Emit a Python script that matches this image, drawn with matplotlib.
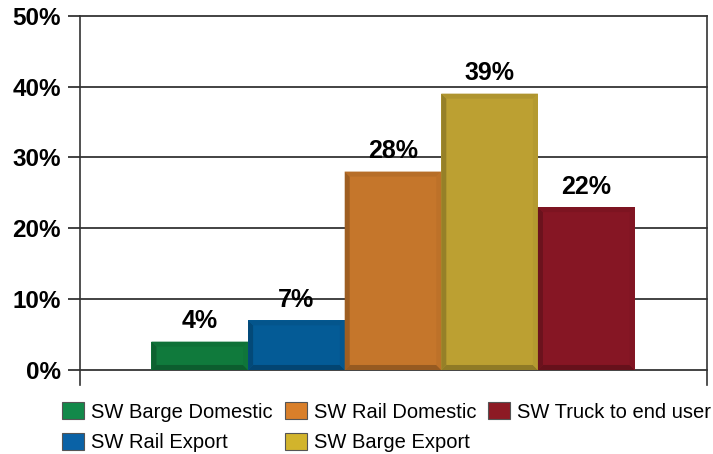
import numpy as np
import matplotlib
matplotlib.use("Agg")
import matplotlib.pyplot as plt
from matplotlib.patches import Polygon
from matplotlib.colors import to_rgb

# data
series = ["SW Barge Domestic", "SW Rail Export", "SW Rail Domestic",
          "SW Barge Export", "SW Truck to end user"]
heights = [4, 7, 28, 39, 23]          # bar heights as drawn (%)
labels = ["4%", "7%", "28%", "39%", "22%"]
colors = ["#107a3c", "#045b96", "#c5762b", "#bca032", "#861624"]
legend_colors = ["#12894a", "#0a62a6", "#d97f2a", "#d2b42c", "#8d1a24"]
yticks = [0, 10, 20, 30, 40, 50]


def shade(c, f):
    r, g, b = to_rgb(c)
    if f < 1:
        return (r * f, g * f, b * f)
    return (r + (1 - r) * (f - 1), g + (1 - g) * (f - 1), b + (1 - b) * (f - 1))


plt.rcParams['font.family'] = ['Liberation Sans', 'DejaVu Sans']

W, H = 713, 454
fig = plt.figure(figsize=(W / 100, H / 100), dpi=100)
ax = fig.add_axes([80 / W, 1 - 385 / H, (707 - 80) / W, (385 - 15.7) / H])

x = np.arange(len(heights))
ax.set_xlim(-1.24, 5.25)
ax.set_ylim(-2.12, 50)

ax.bar(x, heights, width=1.0, color=colors, zorder=3, linewidth=0)

# simple bevel on each bar
pos = ax.get_position()
px_x = (5.25 + 1.24) / (pos.width * W)
px_y = (50 + 2.12) / (pos.height * H)
bw = 5
bx, by = bw * px_x, bw * px_y
for xi, h, c in zip(x, heights, colors):
    x0, x1 = xi - 0.5, xi + 0.5
    faces = [
        ([(x0, 0), (x0 + bx, by), (x0 + bx, h - by), (x0, h)], shade(c, 0.8)),
        ([(x0, 0), (x1, 0), (x1 - bx, by), (x0 + bx, by)], shade(c, 0.76)),
        ([(x0, h), (x1, h), (x1 - bx, h - by), (x0 + bx, h - by)], shade(c, 0.93)),
        ([(x1, 0), (x1, h), (x1 - bx, h - by), (x1 - bx, by)], shade(c, 0.96)),
    ]
    for pts, fc in faces:
        ax.add_patch(Polygon(pts, closed=True, facecolor=fc, edgecolor='none', zorder=4))

for xi, h, lab in zip(x, heights, labels):
    ax.annotate(lab, (xi, h), xytext=(0, 6), textcoords='offset points',
                ha='center', va='bottom', fontsize=18, fontweight='bold',
                zorder=5)

# gridlines at each tick, across the full plot width
for t in yticks:
    ax.axhline(t, color='#222222', lw=1.2, zorder=2, clip_on=False)

ax.set_yticks(yticks)
ax.set_yticklabels([f"{t}%" for t in yticks], fontsize=17.5, fontweight='bold')
ax.tick_params(axis='y', length=8.6, width=1.2, pad=5, color='#222222')
ax.set_xticks([])

for s in ['top', 'bottom']:
    ax.spines[s].set_visible(False)
for s in ['left', 'right']:
    ax.spines[s].set_linewidth(1.2)
    ax.spines[s].set_color('#333333')

handles = [plt.Rectangle((0, 0), 1, 1, facecolor=c, edgecolor='#555555', lw=0.8)
           for c in legend_colors]
fig.legend(handles, series, loc='upper left', bbox_to_anchor=(62 / W, 1 - 402 / H),
           ncol=3, frameon=False, fontsize=14.5, handlelength=1.1, handleheight=0.95,
           handletextpad=0.34, columnspacing=0.6, labelspacing=0.55,
           borderpad=0, borderaxespad=0)

fig.savefig("out.png", dpi=100)
